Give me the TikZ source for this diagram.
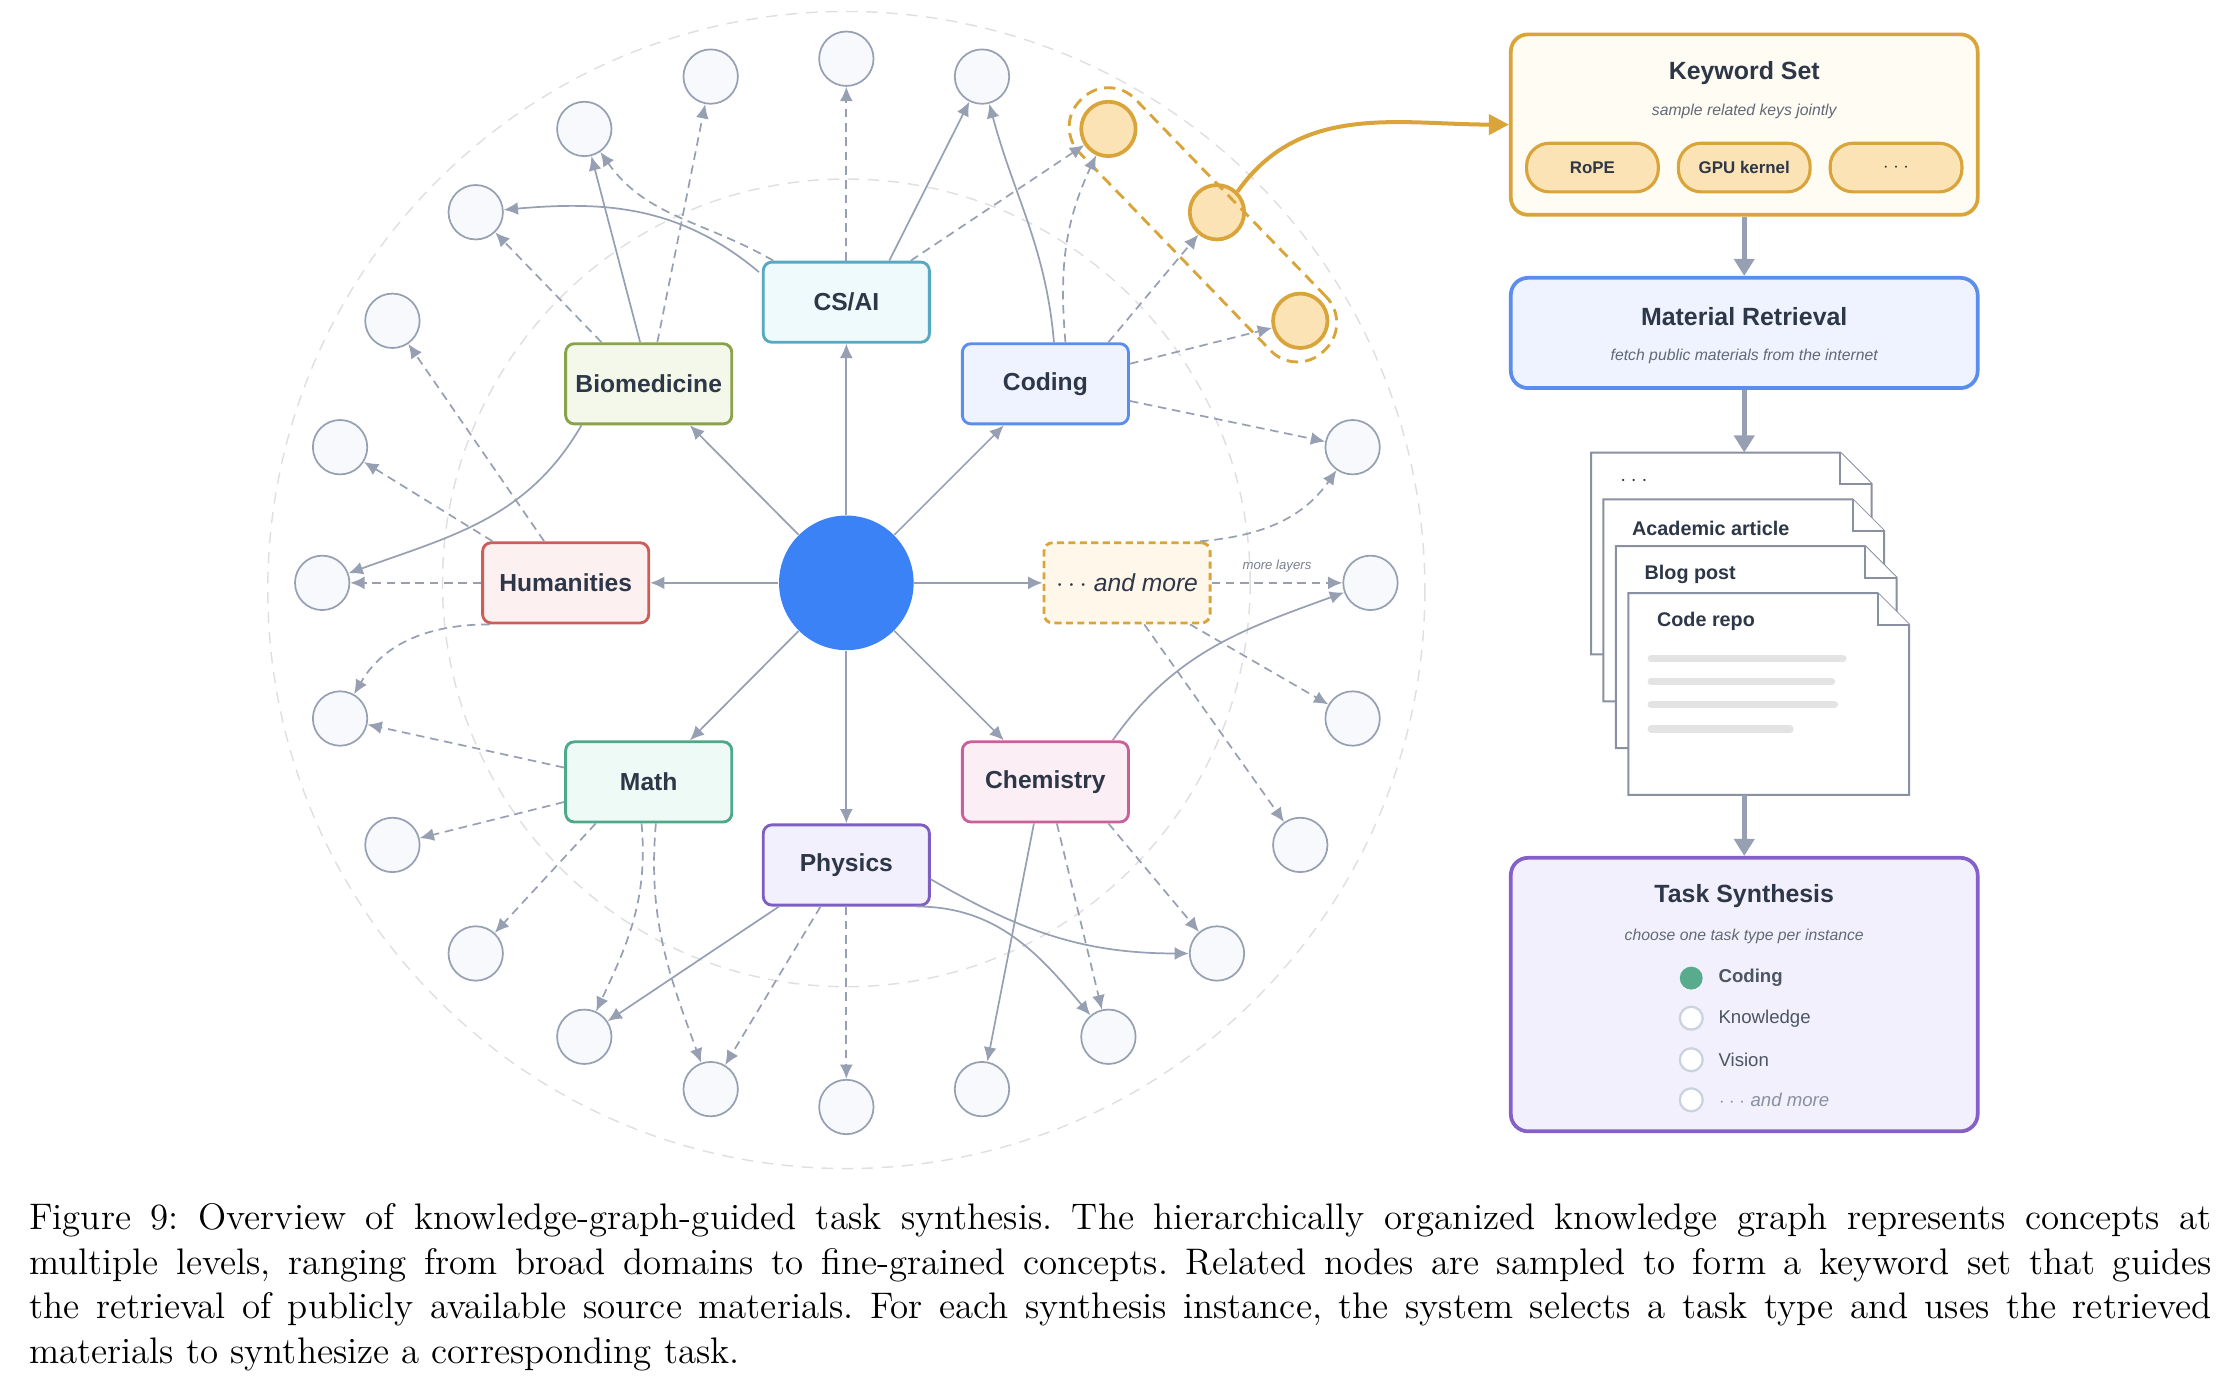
\documentclass[tikz,border=0pt]{standalone}
\usepackage{fontspec}
\newfontfamily\dfont{Liberation Sans}
\usetikzlibrary{arrows.meta,calc}
\definecolor{edg}{HTML}{97A0B3}
\definecolor{txt}{HTML}{2D3748}
\definecolor{org}{HTML}{D9A53A}
\definecolor{ofill}{HTML}{FBE3B5}
\definecolor{lfill}{HTML}{F7F9FC}
\definecolor{ccs}{HTML}{56A9C0}\definecolor{fcs}{HTML}{EEFAFC}
\definecolor{cbio}{HTML}{8AA24A}\definecolor{fbio}{HTML}{F4F8EA}
\definecolor{ccod}{HTML}{5B8DEF}\definecolor{fcod}{HTML}{EEF3FF}
\definecolor{chum}{HTML}{CC5E5A}\definecolor{fhum}{HTML}{FDF0F0}
\definecolor{fmore}{HTML}{FFF7EA}
\definecolor{cmath}{HTML}{4EA88A}\definecolor{fmath}{HTML}{EEFAF5}
\definecolor{cchem}{HTML}{C8609A}\definecolor{fchem}{HTML}{FBEFF5}
\definecolor{cphy}{HTML}{7D5FC4}\definecolor{fphy}{HTML}{F2F0FD}
\definecolor{cts}{HTML}{8560C8}\definecolor{fts}{HTML}{F3F0FD}
\definecolor{fkw}{HTML}{FFFCF3}
\definecolor{cblue}{HTML}{3B82F6}
\definecolor{cgreen}{HTML}{58AB8D}
\definecolor{cring}{HTML}{CCD3DE}
\tikzset{
 dom/.style={draw=#1,line width=1pt,rounded corners=3pt,minimum width=58pt,minimum height=28pt,font=\dfont\bfseries\fontsize{8.6}{10}\selectfont,text=txt},
 leaf/.style={circle,draw=edg,fill=lfill,line width=0.6pt,minimum size=19pt,inner sep=0pt},
 oleaf/.style={circle,draw=org,fill=ofill,line width=1.3pt,minimum size=19pt,inner sep=0pt},
 e/.style={draw=edg,line width=0.6pt,-{Latex[length=5pt,width=4.5pt]}},
 ed/.style={e,dash pattern=on 3pt off 2pt},
 big/.style={draw=edg,line width=1.6pt,-{Triangle[length=6pt,width=7pt]}},
 panel/.style={draw=#1,line width=1.3pt,rounded corners=6pt},
 ttl/.style={font=\dfont\bfseries\fontsize{8.7}{10}\selectfont,text=txt},
 sub/.style={font=\dfont\itshape\fontsize{5.5}{7}\selectfont,text=txt!75},
 pill/.style={draw=org,fill=ofill,line width=1.1pt,rounded corners=8pt,minimum width=46pt,minimum height=17pt,font=\dfont\bfseries\fontsize{5.9}{7}\selectfont,text=txt},
 item/.style={font=\dfont\fontsize{6.5}{8}\selectfont,text=txt!85,anchor=west},
 page/.style={draw=edg!90!black,line width=0.7pt,fill=white},
 ring/.style={circle,draw=cring,fill=white,line width=0.8pt,minimum size=8pt,inner sep=0pt},
}
\begin{document}
\begin{tikzpicture}[x=0.5pt,y=-0.5pt]
\useasboundingbox (0,0) rectangle (1560,976);
% background circles
\draw[gray!25,dash pattern=on 4pt off 3pt,line width=0.5pt] (591,412) circle[radius=404];
\draw[gray!25,dash pattern=on 4pt off 3pt,line width=0.5pt] (591,407) circle[radius=282];
% leaves
\foreach \a in {0,15,75,90,105,120,135,150,165,180,195,210,225,240,255,270,285,300,315,330,345}
  \node[leaf] (L\a) at ({591+366*cos(\a)},{407-366*sin(\a)}) {};
\foreach \a in {30,45,60}
  \node[oleaf] (L\a) at ({591+366*cos(\a)},{407-366*sin(\a)}) {};
\node[draw=org,dash pattern=on 4pt off 2.5pt,line width=1pt,rounded corners=13pt,minimum width=122pt,minimum height=27pt,rotate=-46] (grp) at (840,157) {};
% center & domains
\node[circle,fill=cblue,minimum size=47pt,inner sep=0pt] (c) at (591,407) {};
\node[dom=ccs,fill=fcs] (cs) at (591,211) {CS/AI};
\node[dom=cbio,fill=fbio] (bio) at (453,268) {Biomedicine};
\node[dom=ccod,fill=fcod] (cod) at (730,268) {Coding};
\node[dom=chum,fill=fhum] (hum) at (395,407) {Humanities};
\node[dom=org,dash pattern=on 2.5pt off 1.5pt,fill=fmore,font=\dfont\itshape\fontsize{8.6}{10}\selectfont] (more) at (787,407) {$\cdots$ and more};
\node[dom=cmath,fill=fmath] (math) at (453,546) {Math};
\node[dom=cchem,fill=fchem] (chem) at (730,546) {Chemistry};
\node[dom=cphy,fill=fphy] (phys) at (591,604) {Physics};
\foreach \d in {cs,bio,cod,hum,more,math,chem,phys} \draw[e] (c) -- (\d);
% CS/AI
\draw[ed] (cs) -- (L90);
\draw[e] ($(cs.north)+(30,0)$) -- (L75);
\draw[ed] ($(cs.north east)+(-14,0)$) -- (L60);
\draw[e] ($(cs.north west)+(-2,8)$) to[out=140,in=5] (L135);
\draw[ed] ($(cs.north west)+(8,0)$) to[out=150,in=-55] (L120);
% Biomedicine
\draw[ed] ($(bio.north)+(6,0)$) -- (L105);
\draw[e] ($(bio.north)+(-6,0)$) -- (L120);
\draw[ed] ($(bio.north west)+(26,0)$) -- (L135);
\draw[e] ($(bio.south west)+(12,0)$) to[out=-120,in=20] (L180);
% Coding
\draw[e] ($(cod.north)+(6,0)$) to[out=95,in=-75] (L75);
\draw[ed] ($(cod.north)+(14,0)$) to[out=95,in=-115] (L60);
\draw[ed] ($(cod.north east)+(-15,0)$) -- (L45);
\draw[ed] ($(cod.east)+(0,-14)$) -- (L30);
\draw[ed] ($(cod.east)+(0,12)$) -- (L15);
% Humanities
\draw[ed] ($(hum.north west)+(8,0)$) -- (L165);
\draw[ed] ($(hum.north)+(-15,0)$) -- (L150);
\draw[ed] (hum) -- (L180);
\draw[ed] ($(hum.south west)+(6,0)$) to[out=180,in=60] (L195);
% more
\draw[ed] (more) -- node[above,font=\dfont\itshape\fontsize{4.6}{5}\selectfont,text=edg!80!black,pos=0.5] {more layers} (L0);
\draw[ed] ($(more.north east)+(-8,0)$) to[out=5,in=-125] (L15);
\draw[ed] ($(more.south east)+(-15,0)$) -- (L345);
\draw[ed] ($(more.south)+(12,0)$) -- (L330);
% Chemistry
\draw[e] ($(chem.north east)+(-12,0)$) to[out=55,in=200] (L0);
\draw[ed] ($(chem.south east)+(-15,0)$) -- (L315);
\draw[ed] ($(chem.south)+(8,0)$) -- (L300);
\draw[e] ($(chem.south)+(-8,0)$) -- (L285);
% Physics
\draw[ed] (phys) -- (L270);
\draw[ed] ($(phys.south)+(-18,0)$) -- (L255);
\draw[e] ($(phys.south west)+(12,0)$) -- (L240);
\draw[e] ($(phys.east)+(0,10)$) to[out=-30,in=180] (L315);
\draw[e] ($(phys.south east)+(-10,0)$) to[out=0,in=130] (L300);
% Math
\draw[ed] ($(math.west)+(0,-10)$) -- (L195);
\draw[ed] ($(math.west)+(0,14)$) -- (L210);
\draw[ed] ($(math.south west)+(22,0)$) -- (L225);
\draw[ed] ($(math.south)+(-5,0)$) to[out=-85,in=65] (L240);
\draw[ed] ($(math.south)+(5,0)$) to[out=-95,in=110] (L255);
% Right panel
\node[panel=org,fill=fkw,minimum width=163pt,minimum height=63pt] (kw) at (1218,87) {};
\node[ttl] (kwt) at (1218,51) {Keyword Set};
\node[sub] (kws) at (1218,78) {sample related keys jointly};
\node[pill] (p1) at (1112,117) {RoPE};
\node[pill] (p2) at (1218,117) {GPU kernel};
\node[pill] (p3) at (1324,117) {$\cdots$};
\draw[org,line width=1.4pt,-{Triangle[length=7pt,width=7pt]}] (L45.north east) to[out=55,in=180] (kw.west);
\node[panel=ccod,fill=fcod,minimum width=163pt,minimum height=38.5pt] (mr) at (1218,232.5) {};
\node[ttl] (mrt) at (1218,221) {Material Retrieval};
\node[sub] (mrs) at (1218,249) {fetch public materials from the internet};
\draw[big] (kw.south) -- (mr.north);
% documents
\foreach \i/\lab in {0/{$\cdots$},1/{Academic article},2/{Blog post},3/{Code repo}}{
  \pgfmathsetmacro\px{1111+8.7*\i}
  \pgfmathsetmacro\py{316+32.7*\i}
  \draw[page] (\px,\py) -- ++(174,0) -- ++(22,22) -- ++(0,119) -- ++(-196,0) -- cycle;
  \draw[page] (\px+174,\py) -- ++(0,22) -- ++(22,0);
  \node[anchor=west,font=\dfont\bfseries\fontsize{6.9}{8}\selectfont,text=txt] (doc\i) at (\px+13,\py+20) {\lab};
}
\coordinate (dtop) at (1218,316);
\coordinate (dbot) at (1218,555);
\draw[big] (mr.south) -- (dtop);
\foreach \yy/\w in {460/134,476/126,492/128,509/97}
  \draw[gray!22,line width=2.5pt,line cap=round] (1153,\yy) -- ++(\w,0);
\node[panel=cts,fill=fts,minimum width=163pt,minimum height=95.5pt] (ts) at (1218,694.5) {};
\draw[big] (dbot) -- (ts.north);
\node[ttl] (tst) at (1218,626) {Task Synthesis};
\node[sub] (tss) at (1218,654) {choose one task type per instance};
\node[circle,fill=cgreen,minimum size=8pt,inner sep=0pt] (b1) at (1181,683) {};
\node[item,font=\dfont\bfseries\fontsize{6.5}{8}\selectfont] (i1) at (1193,683) {Coding};
\node[ring] (b2) at (1181,711) {};
\node[item] (i2) at (1193,711) {Knowledge};
\node[ring] (b3) at (1181,740) {};
\node[item] (i3) at (1193,740) {Vision};
\node[ring] (b4) at (1181,768) {};
\node[item,text=edg!90!black,font=\dfont\itshape\fontsize{6.5}{8}\selectfont] (i4) at (1193,768) {$\cdots$ and more};
% caption
\node[anchor=north west,inner sep=0pt,text width=762pt,align=justify,font=\fontsize{12.9}{15.6}\selectfont] (cap) at (20,840) {\frenchspacing Figure 9: Overview of knowledge-graph-guided task synthesis. The hierarchically organized knowledge graph represents concepts at\linebreak multiple levels, ranging from broad domains to fine-grained concepts. Related nodes are sampled to form a keyword set that guides\linebreak the retrieval of publicly available source materials. For each synthesis instance, the system selects a task type and uses the retrieved\linebreak materials to synthesize a corresponding task.};
\end{tikzpicture}
\end{document}
